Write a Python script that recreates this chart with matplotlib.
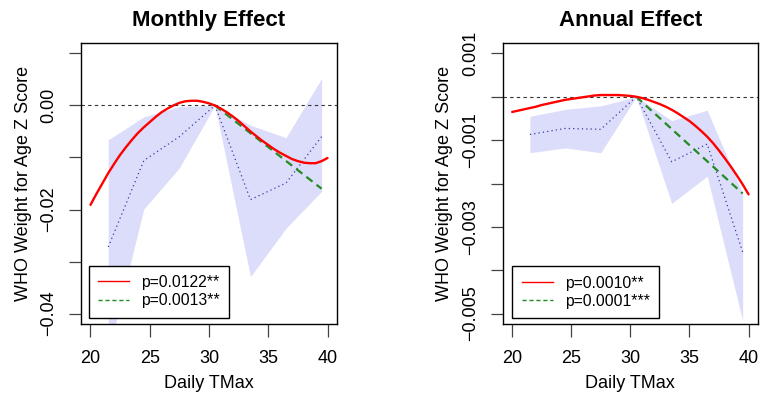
import matplotlib
matplotlib.use("Agg")
import matplotlib.pyplot as plt
from matplotlib.lines import Line2D

plt.rcParams['font.family'] = ['Liberation Sans', 'DejaVu Sans']

# ---------------- data ----------------
curve_x = [20, 20.5, 21, 21.5, 22, 22.5, 23, 23.5, 24, 24.5, 25, 25.5, 26, 26.5, 27, 27.5, 28,
           28.5, 29, 29.5, 30, 30.5, 31, 31.5, 32, 32.5, 33, 33.5, 34, 34.5, 35, 35.5, 36, 36.5,
           37, 37.5, 38, 38.5, 39, 39.5, 40]
monthly_curve = [-0.0191, -0.0170, -0.0150, -0.0130, -0.0112, -0.0095, -0.0080, -0.0066, -0.0053,
                 -0.0042, -0.0032, -0.0022, -0.0013, -0.0006, 0.0000, 0.0005, 0.0008, 0.0009,
                 0.0009, 0.0007, 0.0004, 0.0000, -0.0006, -0.0013, -0.0021, -0.0030, -0.0040,
                 -0.0050, -0.0059, -0.0068, -0.0076, -0.0084, -0.0091, -0.0097, -0.0103, -0.0107,
                 -0.0110, -0.0111, -0.0111, -0.0107, -0.0101]
annual_curve = [-0.00035, -0.00032, -0.00029, -0.00026, -0.00023, -0.00019, -0.00016, -0.00013,
                -0.00010, -0.00007, -0.00005, -0.00003, -0.00001, 0.00001, 0.00003, 0.00004,
                0.00004, 0.00004, 0.00004, 0.00003, 0.00002, 0.00000, -0.00003, -0.00007,
                -0.00012, -0.00017, -0.00023, -0.00030, -0.00038, -0.00047, -0.00056, -0.00067,
                -0.00079, -0.00092, -0.00107, -0.00124, -0.00142, -0.00161, -0.00181, -0.00202,
                -0.00225]

bin_x = [21.5, 24.5, 27.5, 30.5, 33.5, 36.5, 39.5]
monthly_bin = [-0.0272, -0.0106, -0.0060, 0.0, -0.0181, -0.0149, -0.0060]
monthly_lo = [-0.0475, -0.0199, -0.0120, 0.0, -0.0329, -0.0236, -0.0165]
monthly_hi = [-0.0066, -0.0022, -0.0002, 0.0, -0.0038, -0.0062, 0.0052]
annual_bin = [-0.00087, -0.00073, -0.00075, 0.0, -0.00150, -0.00109, -0.00358]
annual_lo = [-0.00129, -0.00118, -0.00129, 0.0, -0.00246, -0.00183, -0.00516]
annual_hi = [-0.00045, -0.00029, -0.00021, 0.0, -0.00055, -0.00031, -0.00223]

lin_x = [30.5, 39.5]
monthly_lin = [0.0, -0.0160]
annual_lin = [0.0, -0.00223]

titles = ["Monthly Effect", "Annual Effect"]
legend_labels = [["p=0.0122**", "p=0.0013**"], ["p=0.0010**", "p=0.0001***"]]
x_ticks = [20, 25, 30, 35, 40]
monthly_yticks = [0.01, 0.0, -0.01, -0.02, -0.03, -0.04]
monthly_ylabels = ["", "0.00", "", "\u22120.02", "", "\u22120.04"]
annual_yticks = [0.001, 0.0, -0.001, -0.002, -0.003, -0.004, -0.005]
annual_ylabels = ["0.001", "", "\u22120.001", "", "\u22120.003", "", "\u22120.005"]

# ---------------- figure ----------------
W, H = 760, 399
fig = plt.figure(figsize=(W / 100, H / 100), dpi=100)

panels = [
    dict(rect=[81 / W, 1 - 324 / H, 256 / W, 281 / H], curve=monthly_curve, bins=monthly_bin,
         lo=monthly_lo, hi=monthly_hi, lin=monthly_lin, ylim=(-0.042, 0.012),
         yt=monthly_yticks, yl=monthly_ylabels, leg=(0.030, 0.022), ylab_x=-0.19),
    dict(rect=[502.7 / W, 1 - 324 / H, 255.3 / W, 281 / H], curve=annual_curve, bins=annual_bin,
         lo=annual_lo, hi=annual_hi, lin=annual_lin, ylim=(-0.00524, 0.00124),
         yt=annual_yticks, yl=annual_ylabels, leg=(0.038, 0.020), ylab_x=-0.195),
]

for i, p in enumerate(panels):
    ax = fig.add_axes(p['rect'])
    ax.fill_between(bin_x, p['lo'], p['hi'], color='#DCDDFA', linewidth=0, zorder=1)
    ax.axhline(0, color='#333333', lw=0.8, linestyle=(0, (3, 3)), zorder=2)
    ax.plot(bin_x, p['bins'], color='#3B3BA8', lw=0.9, linestyle=(0, (1, 2.5)), zorder=3)
    ax.plot(lin_x, p['lin'], color='#228B22', lw=1.6, linestyle=(0, (3.5, 2.3)), zorder=4)
    ax.plot(curve_x, p['curve'], color='#FF0000', lw=1.7, zorder=5,
            solid_joinstyle='round', solid_capstyle='round')

    ax.set_xlim(19.2, 40.8)
    ax.set_ylim(*p['ylim'])
    ax.set_xticks(x_ticks)
    ax.set_xticklabels([str(t) for t in x_ticks])
    ax.set_yticks(p['yt'])
    ax.set_yticklabels(p['yl'], rotation=90, va='center')
    ax.tick_params(axis='both', direction='out', length=9, width=0.9, color='#444444',
                   labelsize=13)
    ax.tick_params(axis='x', pad=10)
    ax.tick_params(axis='y', pad=8)
    for s in ax.spines.values():
        s.set_linewidth(1.0)
        s.set_color('black')

    ax.set_title(titles[i], fontsize=16, fontweight='bold', pad=12.5)
    ax.set_xlabel("Daily TMax", fontsize=13)
    ax.xaxis.set_label_coords(0.5, -0.183)
    ax.set_ylabel("WHO Weight for Age Z Score", fontsize=13)
    ax.yaxis.set_label_coords(p['ylab_x'], 0.5)

    handles = [Line2D([], [], color='#FF0000', lw=1.0),
               Line2D([], [], color='#228B22', lw=1.0, linestyle=(0, (3, 2)))]
    leg = ax.legend(handles, legend_labels[i], loc='lower left', bbox_to_anchor=p['leg'],
                    borderaxespad=0, fontsize=11.3, handlelength=2.0, handletextpad=0.75,
                    borderpad=0.6, labelspacing=0.22, fancybox=False, framealpha=1,
                    edgecolor='black')
    leg.get_frame().set_linewidth(1.0)
    leg.set_zorder(10)

fig.savefig("out.png", dpi=100)
